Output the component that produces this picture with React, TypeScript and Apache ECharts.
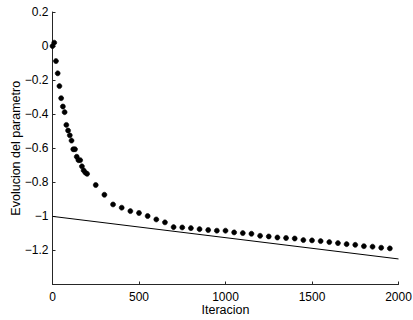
import React, { useEffect, useRef } from "react";
import * as echarts from "echarts";

// Iteration numbers at which the parameter was sampled
const earlyIters = [0, 10, 20, 30, 40, 50, 60, 70, 80, 90, 100, 110, 120, 130, 140, 150, 160, 170, 180, 190, 200];
const earlyValues = [0.0, 0.02, -0.088, -0.16, -0.235, -0.306, -0.355, -0.388, -0.463, -0.496, -0.524, -0.555, -0.606, -0.606, -0.65, -0.67, -0.67, -0.706, -0.73, -0.743, -0.75];

const lateIters = [250, 300, 350, 400, 450, 500, 550, 600, 650, 700, 750, 800, 850, 900, 950, 1000, 1050, 1100, 1150, 1200, 1250, 1300, 1350, 1400, 1450, 1500, 1550, 1600, 1650, 1700, 1750, 1800, 1850, 1900, 1950];
const lateValues = [-0.816, -0.873, -0.93, -0.949, -0.969, -0.98, -0.998, -1.018, -1.035, -1.063, -1.065, -1.069, -1.075, -1.08, -1.084, -1.084, -1.094, -1.098, -1.102, -1.114, -1.118, -1.124, -1.127, -1.13, -1.139, -1.141, -1.145, -1.151, -1.157, -1.163, -1.167, -1.175, -1.178, -1.184, -1.188];

// Reference line endpoints
const refIters = [0, 2000];
const refValues = [-1.0, -1.25];

const xTicks = { min: 0, max: 2000, interval: 500 };
const yTicks = { min: -1.4, max: 0.2, interval: 0.2 };

const FONT = "'Liberation Sans', Arial, Helvetica, sans-serif";

function fmtY(v: number): string {
  const r = Math.round(v * 10) / 10;
  if (Math.abs(r) < 1e-9) return "0";
  const s = String(Math.abs(r));
  return r < 0 ? "\u2212" + s : s;
}

export default function App() {
  const ref = useRef<HTMLDivElement>(null);

  useEffect(() => {
    if (!ref.current) return;
    const chart = echarts.init(ref.current, undefined, { renderer: "svg" });

    const points = [
      ...earlyIters.map((x, i) => [x, earlyValues[i]]),
      ...lateIters.map((x, i) => [x, lateValues[i]]),
    ];
    const line = refIters.map((x, i) => [x, refValues[i]]);

    const axisColor = "#262626";

    chart.setOption({
      animation: false,
      backgroundColor: "#ffffff",
      grid: {
        left: 52.5,
        right: 14.5,
        top: 12,
        bottom: 35.5,
        containLabel: false,
        outerBoundsMode: "none",
      },
      xAxis: {
        type: "value",
        min: xTicks.min,
        max: xTicks.max,
        interval: xTicks.interval,
        name: "Iteracion",
        nameLocation: "middle",
        nameGap: 19,
        nameMoveOverlap: false,
        nameTextStyle: { fontFamily: FONT, fontSize: 12.5, color: "#000" },
        axisLine: { show: true, onZero: false, lineStyle: { color: axisColor, width: 1 } },
        axisTick: { show: true, inside: true, length: 3, lineStyle: { color: axisColor } },
        axisLabel: {
          fontFamily: FONT,
          fontSize: 12,
          color: "#000",
          margin: 6,
          formatter: (v: number) => String(Math.round(v)),
        },
        splitLine: { show: false },
      },
      yAxis: {
        type: "value",
        min: yTicks.min,
        max: yTicks.max,
        interval: yTicks.interval,
        name: "Evolucion del parametro",
        nameLocation: "middle",
        nameGap: 30,
        nameMoveOverlap: false,
        nameTextStyle: { fontFamily: FONT, fontSize: 12.5, color: "#000" },
        axisLine: { show: true, onZero: false, lineStyle: { color: axisColor, width: 1 } },
        axisTick: { show: true, inside: true, length: 3, lineStyle: { color: axisColor } },
        axisLabel: {
          fontFamily: FONT,
          fontSize: 12,
          color: "#000",
          margin: 4,
          formatter: (v: number) => (Math.abs(v - yTicks.min) < 1e-6 ? "" : fmtY(v)),
        },
        splitLine: { show: false },
      },
      series: [
        {
          type: "line",
          data: line,
          symbol: "none",
          lineStyle: { color: "#000", width: 1 },
          silent: true,
        },
        {
          type: "scatter",
          data: points,
          symbol: "circle",
          symbolSize: 5,
          itemStyle: { color: "#000", borderColor: "#000", borderWidth: 0.6, opacity: 1 },
          silent: true,
        },
      ],
    });

    return () => chart.dispose();
  }, []);

  return (
    <div
      ref={ref}
      style={{ position: "fixed", left: 0, top: 0, width: 413, height: 320 }}
    />
  );
}
